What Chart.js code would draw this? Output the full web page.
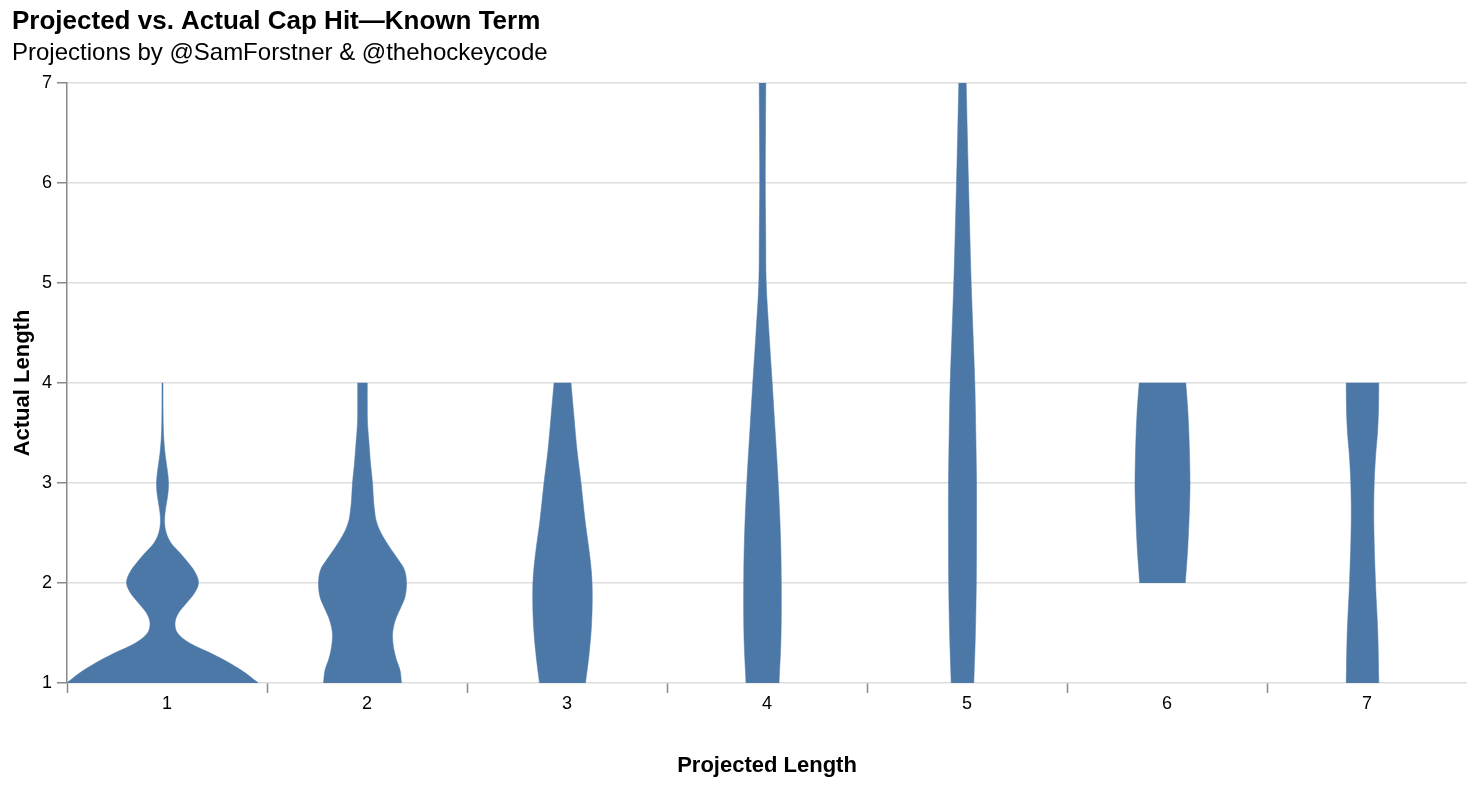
<!DOCTYPE html>
<html lang="en">
<head>
    <meta charset="UTF-8">
    <title>Projected vs. Actual Cap Hit—Known Term</title>
    <script src="https://cdn.jsdelivr.net/npm/chart.js"></script>
    <style>
        body {
            margin: 0;
            background: #fff;
        }
        .chart-box {
            width: 1476px;
            height: 786px;
        }
    </style>
</head>
<body>
    <div class="chart-box"><canvas id="violinChart"></canvas></div>

    <script>
        // projected length categories and y ticks
        const categories = [1, 2, 3, 4, 5, 6, 7];
        const yTicks = [1, 2, 3, 4, 5, 6, 7];

        // density profile of each violin: actual length level -> half width
        const actual1 = [1.0, 1.03, 1.1, 1.2, 1.3, 1.4, 1.5, 1.6, 1.7, 1.8, 1.9, 2.0, 2.1, 2.2, 2.3, 2.4, 2.5, 2.6, 2.7, 2.8, 2.9, 3.0, 3.1, 3.2, 3.3, 3.4, 3.5, 3.7, 4.0];
        const density1 = [96, 92, 83, 67, 48, 27, 15, 12.5, 16, 24, 32, 36, 33, 26, 17.5, 8.5, 3.8, 2.1, 2.5, 4, 5.5, 6, 5.2, 3.8, 2.5, 1.6, 1, 0.6, 0.5];

        const actual2 = [1.0, 1.13, 1.23, 1.33, 1.46, 1.56, 1.66, 1.76, 1.86, 2.0, 2.13, 2.23, 2.33, 2.43, 2.53, 2.63, 2.73, 2.83, 3.0, 3.2, 3.4, 3.6, 3.8, 4.0];
        const density2 = [39, 37.5, 34, 31.5, 30, 31, 34, 38.5, 42.5, 44, 42, 36, 29, 22.5, 17, 13.5, 12, 11, 10, 8, 6.5, 5, 4.8, 4.8];

        const actual3 = [1.0, 1.28, 1.58, 1.88, 2.1, 2.33, 2.63, 3.0, 3.33, 3.66, 4.0];
        const density3 = [23, 26.5, 29, 29.8, 29, 26.5, 22.5, 18.5, 14.5, 11.5, 8.5];

        const actual4 = [1.0, 1.46, 2.0, 2.46, 3.0, 3.46, 4.0, 4.5, 5.0, 5.5, 6.0, 6.5, 7.0];
        const density4 = [16.5, 18.5, 18.8, 18, 15.7, 13, 9.7, 6.5, 3.7, 3.2, 2.8, 3, 3.3];

        const actual5 = [1.0, 1.46, 2.0, 2.5, 3.0, 3.5, 4.0, 4.5, 5.0, 5.5, 6.0, 6.5, 7.0];
        const density5 = [11.3, 12.8, 13.8, 14, 14, 13.3, 12.3, 10.5, 8.7, 7.3, 6, 4.8, 3.7];

        const actual6 = [2.0, 2.36, 2.76, 3.0, 3.4, 3.73, 4.0];
        const density6 = [22.8, 25.3, 27, 27.5, 26.7, 25.3, 23.3];

        const actual7 = [1.0, 1.5, 2.0, 2.6, 3.0, 3.3, 3.5, 3.73, 4.0];
        const density7 = [16.3, 15.3, 13, 11.3, 11.7, 13.3, 15, 16, 16.3];

        const actualLevels = [actual1, actual2, actual3, actual4, actual5, actual6, actual7];
        const densities = [density1, density2, density3, density4, density5, density6, density7];

        const violinColor = '#4c78a8';
        const densityScale = 0.005;   // x units per density unit
        const violinShift = -0.0225;  // small offset of the violins inside the band

        // closed outline: right side going up, left side coming down (corners doubled so they stay sharp)
        function outline(cat, levels, dens) {
            const cx = cat + violinShift;
            const right = levels.map((y, i) => ({ x: cx + dens[i] * densityScale, y: y }));
            const left = levels.map((y, i) => ({ x: cx - dens[i] * densityScale, y: y })).reverse();
            const pts = [];
            pts.push(right[0]);
            pts.push(...right);
            pts.push(right[right.length - 1]);
            pts.push(left[0]);
            pts.push(...left);
            pts.push(left[left.length - 1]);
            return pts;
        }

        const datasets = categories.map((cat, i) => ({
            label: 'Projected ' + cat,
            data: outline(cat, actualLevels[i], densities[i]),
            showLine: true,
            fill: 'shape',
            backgroundColor: violinColor,
            borderColor: violinColor,
            borderWidth: 0.5,
            tension: 0.35,
            pointRadius: 0,
            pointHoverRadius: 0
        }));

        // tick marks sit on band edges, labels in band centers
        const xTicks = [];
        categories.forEach(c => {
            xTicks.push(c - 0.5);
            xTicks.push(c);
        });

        Chart.defaults.font.family = "'Liberation Sans', Arial, Helvetica, sans-serif";
        Chart.defaults.color = '#000';

        const ctx = document.getElementById('violinChart').getContext('2d');
        new Chart(ctx, {
            type: 'scatter',
            data: { datasets: datasets },
            options: {
                responsive: true,
                maintainAspectRatio: false,
                animation: false,
                layout: {
                    padding: { left: 12, right: 9, top: 0, bottom: 0 }
                },
                plugins: {
                    legend: { display: false },
                    tooltip: { enabled: false },
                    title: {
                        display: true,
                        text: 'Projected vs. Actual Cap Hit—Known Term',
                        align: 'start',
                        color: '#000',
                        font: { size: 26, weight: 'bold' },
                        padding: { top: 6.7, bottom: 0 }
                    },
                    subtitle: {
                        display: true,
                        text: 'Projections by @SamForstner & @thehockeycode',
                        align: 'start',
                        color: '#000',
                        font: { size: 24, weight: 'normal' },
                        padding: { top: 0.7, bottom: 15.6 }
                    }
                },
                scales: {
                    x: {
                        type: 'linear',
                        min: 0.5,
                        max: 7.5,
                        afterBuildTicks: scale => {
                            scale.ticks = xTicks.map(v => ({ value: v }));
                        },
                        afterFit: scale => {
                            scale.height = 103;
                        },
                        ticks: {
                            autoSkip: false,
                            maxRotation: 0,
                            padding: 0,
                            color: '#000',
                            font: { size: 18 },
                            callback: v => Number.isInteger(v) ? String(v) : ''
                        },
                        grid: {
                            drawOnChartArea: false,
                            tickLength: 10,
                            tickWidth: 1.5,
                            tickColor: c => (c.tick && Number.isInteger(c.tick.value)) ? 'rgba(0,0,0,0)' : '#888'
                        },
                        border: { display: false },
                        title: {
                            display: true,
                            text: 'Projected Length',
                            color: '#000',
                            font: { size: 22, weight: 'bold' },
                            padding: { top: 0, bottom: 6.4 }
                        }
                    },
                    y: {
                        min: 1,
                        max: 7,
                        afterBuildTicks: scale => {
                            scale.ticks = yTicks.map(v => ({ value: v }));
                        },
                        afterFit: scale => {
                            scale.width = 55;
                        },
                        ticks: {
                            padding: 5,
                            color: '#000',
                            font: { size: 18 }
                        },
                        grid: {
                            color: '#ddd',
                            lineWidth: 1.5,
                            tickColor: '#888',
                            tickWidth: 1.5,
                            tickLength: 10
                        },
                        border: { color: '#888', width: 1.5 },
                        title: {
                            display: true,
                            text: 'Actual Length',
                            color: '#000',
                            font: { size: 22, weight: 'bold', lineHeight: 1 },
                            padding: 0
                        }
                    }
                }
            }
        });
    </script>
</body>
</html>
